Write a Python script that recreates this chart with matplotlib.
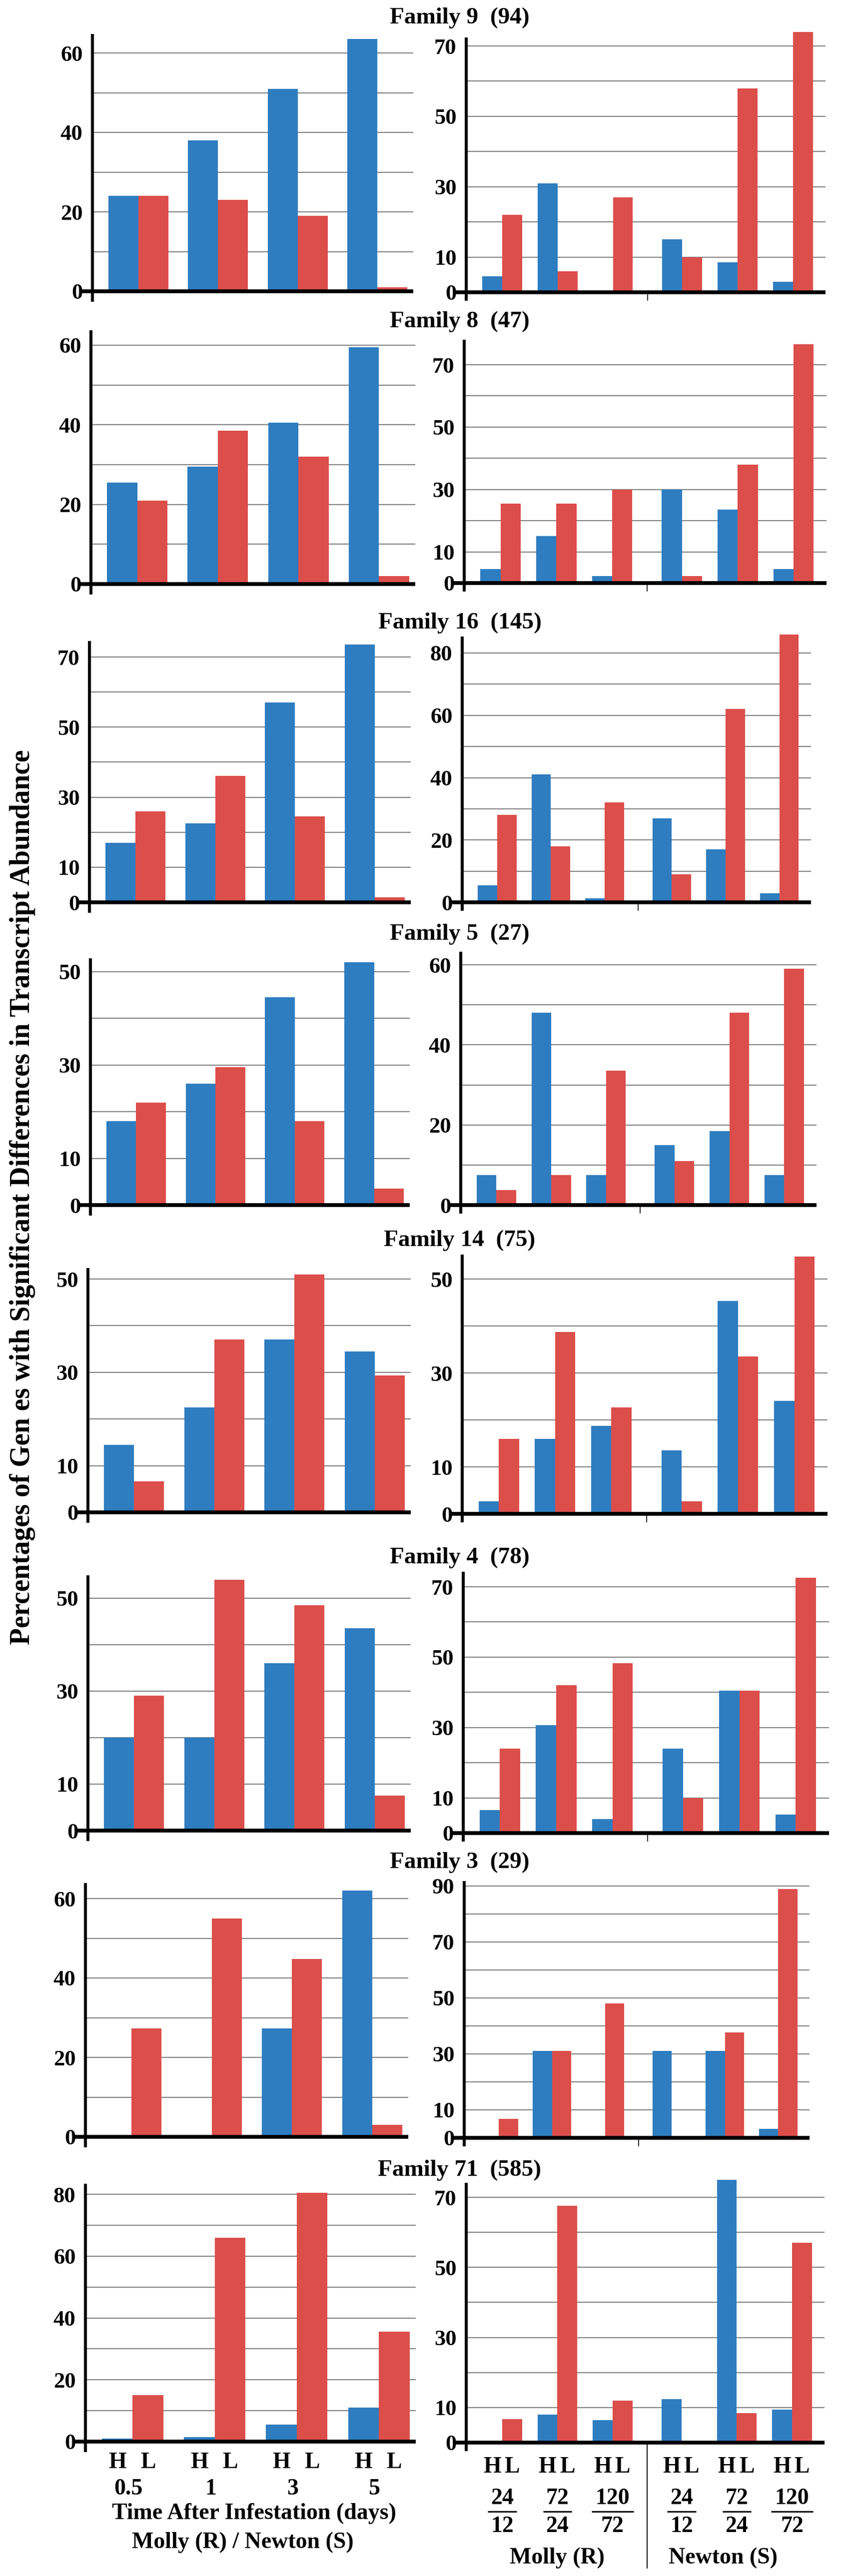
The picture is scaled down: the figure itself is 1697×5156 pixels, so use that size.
import matplotlib
matplotlib.use("Agg")
import matplotlib.pyplot as plt
from matplotlib.transforms import blended_transform_factory

# ---------------- data ----------------
families = ["Family 9", "Family 8", "Family 16", "Family 5",
            "Family 14", "Family 4", "Family 3", "Family 71"]
family_sizes = [94, 47, 145, 27, 75, 78, 29, 585]

days_labels = ["0.5", "1", "3", "5"]
ratio_top = ["24", "72", "120", "24", "72", "120"]
ratio_bottom = ["12", "24", "72", "12", "24", "72"]
cultivars = ["Molly (R)", "Newton (S)"]

# left panels (time after infestation), H = blue, L = red
left_H = [
    [24, 38, 51, 63.5],
    [25.5, 29.5, 40.5, 59.5],
    [17, 22.5, 57, 73.5],
    [18, 26, 44.5, 52],
    [14.5, 22.5, 37, 34.5],
    [20, 20, 36, 43.5],
    [0, 0, 27.3, 62],
    [1, 1.5, 5.5, 11],
]
left_L = [
    [24, 23, 19, 1],
    [21, 38.5, 32, 2],
    [26, 36, 24.5, 1.4],
    [22, 29.5, 18, 3.5],
    [6.6, 37, 51, 29.3],
    [29, 54, 48.5, 7.5],
    [27.3, 55, 44.8, 3],
    [15, 66, 80.5, 35.5],
]
# right panels (ratios, Molly then Newton), H = blue, L = red
right_H = [
    [4.5, 31, 0, 15, 8.5, 3],
    [4.5, 15, 2.3, 30, 23.5, 4.5],
    [5.4, 41, 1.3, 27, 17, 2.9],
    [7.5, 48, 7.5, 15, 18.5, 7.5],
    [2.7, 16, 18.7, 13.5, 45.3, 24],
    [6.5, 30.7, 4, 24, 40.5, 5.2],
    [0, 31, 0, 31, 31, 3.3],
    [0, 8, 6.4, 12.4, 75, 9.4],
]
right_L = [
    [22, 6, 27, 10, 58, 74],
    [25.5, 25.5, 30, 2.3, 38, 76.5],
    [28, 18, 32, 9, 62, 86],
    [3.7, 7.5, 33.5, 11, 48, 59],
    [16, 38.7, 22.7, 2.7, 33.5, 54.8],
    [24, 42, 48.3, 10, 40.5, 72.5],
    [6.7, 31, 48, 0, 37.6, 89],
    [6.7, 67.6, 12, 0, 8.4, 57],
]
left_ticks = [
    [0, 20, 40, 60],
    [0, 20, 40, 60],
    [0, 10, 30, 50, 70],
    [0, 10, 30, 50],
    [0, 10, 30, 50],
    [0, 10, 30, 50],
    [0, 20, 40, 60],
    [0, 20, 40, 60, 80],
]
right_ticks = [
    [0, 10, 30, 50, 70],
    [0, 10, 30, 50, 70],
    [0, 20, 40, 60, 80],
    [0, 20, 40, 60],
    [0, 10, 30, 50],
    [0, 10, 30, 50, 70],
    [0, 10, 30, 50, 70, 90],
    [0, 10, 30, 50, 70],
]

# ---------------- layout (pixels) ----------------
W, H = 1697, 5156
BLUE = "#2E7DC0"
RED = "#DC4E4A"
GRID = "#808080"
FONT = "Liberation Serif"

title_y = [36, 644, 1247, 1870, 2483, 3118, 3728, 4344]
title_x = 920

L_y0 = [583, 1169, 1806, 2412, 3027, 3664, 4277, 4887]
L_ref = [(60, 106), (60, 691), (70, 1315), (50, 1945), (50, 2560), (50, 3199), (60, 3800), (80, 4392)]
L_top = [71, 664, 1286, 1921, 2541, 3156, 3772, 4374]
L_sx = [185, 182, 179, 181, 176, 176, 171, 171]
L_ex = [827, 831, 822, 820, 822, 822, 817, 832]

R_y0 = [585, 1167, 1806, 2412, 3030, 3669, 4279, 4889]
R_ref = [(70, 92), (70, 730), (80, 1307), (60, 1931), (50, 2560), (70, 3176), (70, 3887), (70, 4398)]
R_top = [78, 683, 1277, 1908, 2514, 3149, 3768, 4372]
R_sx = [933, 929, 925, 922, 925, 927, 929, 933]
R_ex = [1652, 1654, 1623, 1634, 1656, 1659, 1620, 1650]

left_pos = [0, 1, 2, 3]
right_pos = [0, 1, 2, 3.25, 4.25, 5.25]

fig = plt.figure(figsize=(W / 100, H / 100), dpi=100)
fig.patch.set_facecolor("white")


def fy(py):
    return 1 - py / H


def panel(y0, ref, top_px, sx_px, ex_px, pos, hv, lv, ticks, xs, xe, bw, stub, ext):
    val, tpx = ref
    s = (y0 - tpx) / val                      # px per unit
    spine_top = (y0 - top_px) / s
    hi = max(spine_top, max(hv + lv) + 0.3)
    lo = -ext / s
    u = (ex_px - sx_px) / (xe - xs)           # px per x unit
    left_px = sx_px - stub
    x0 = xs - stub / u
    ax_top = y0 - hi * s
    ax_bot = y0 + ext
    ax = fig.add_axes([left_px / W, fy(ax_bot), (ex_px - left_px) / W, (ax_bot - ax_top) / H])
    ax.patch.set_visible(False)
    ax.set_xlim(x0, xe)
    ax.set_ylim(lo, hi)
    for k in ["top", "right", "bottom"]:
        ax.spines[k].set_visible(False)
    sp = ax.spines["left"]
    sp.set_position(("data", xs))
    sp.set_bounds(lo, spine_top)
    sp.set_linewidth(4.3)
    sp.set_color("black")
    for v in range(10, ticks[-1] + 1, 10):
        ax.plot([xs, xe], [v, v], color=GRID, lw=1.5, zorder=1)
    hb = [p - bw / 2 for p in pos]
    lb = [p + bw / 2 for p in pos]
    ax.bar(hb, hv, bw, color=BLUE, linewidth=0, zorder=2)
    ax.bar(lb, lv, bw, color=RED, linewidth=0, zorder=2)
    ax.plot([x0, xe], [0, 0], color="black", lw=5.5, solid_capstyle="butt", zorder=3)
    ax.set_xticks([])
    ax.set_yticks(ticks)
    ax.set_yticklabels([str(t) for t in ticks], fontfamily=FONT, fontweight="bold", fontsize=32)
    ax.tick_params(axis="y", length=0, pad=14)
    return ax, s


for r in range(8):
    fig.text(title_x / W, fy(title_y[r]), f"{families[r]}  ({family_sizes[r]})",
             ha="center", va="center", fontfamily=FONT, fontweight="bold", fontsize=34)
    axL, sL = panel(L_y0[r], L_ref[r], L_top[r], L_sx[r], L_ex[r], left_pos,
                    left_H[r], left_L[r], left_ticks[r], -0.575, 3.45, 0.375, 24, 18)
    axR, sR = panel(R_y0[r], R_ref[r], R_top[r], R_sx[r], R_ex[r], right_pos,
                    right_H[r], right_L[r], right_ticks[r], -0.65, 5.84, 0.36, 21, 14)
    if r < 7:
        axR.plot([2.625, 2.625], [0, -16 / sR], color="black", lw=1.2, clip_on=False, zorder=3)
    else:
        tr = blended_transform_factory(axR.transData, fig.transFigure)
        axR.plot([2.625, 2.625], [fy(R_y0[r]), fy(5140)], color="black", lw=1.5,
                 clip_on=False, transform=tr)

# ---------------- bottom labels ----------------
kw = dict(fontfamily=FONT, fontweight="bold", fontsize=33, ha="center", va="center")
trL = blended_transform_factory(axL.transData, fig.transFigure)
for i, p in enumerate(left_pos):
    axL.text(p - 0.375 / 2, fy(4929), "H", transform=trL, **kw)
    axL.text(p + 0.375 / 2, fy(4929), "L", transform=trL, **kw)
    axL.text(p - 0.05, fy(4982), days_labels[i], transform=trL, **kw)
fig.text(508 / W, fy(5031), "Time After Infestation (days)", **kw)
fig.text(486 / W, fy(5089), "Molly (R) / Newton (S)", **kw)

trR = blended_transform_factory(axR.transData, fig.transFigure)
for i, p in enumerate(right_pos):
    axR.text(p - 0.36 / 2, fy(4938), "H", transform=trR, **kw)
    axR.text(p + 0.36 / 2, fy(4938), "L", transform=trR, **kw)
    axR.text(p, fy(5001), ratio_top[i], transform=trR, **kw)
    axR.text(p, fy(5057), ratio_bottom[i], transform=trR, **kw)
    hw = 0.38 if max(len(ratio_top[i]), len(ratio_bottom[i])) > 2 else 0.26
    axR.plot([p - hw, p + hw], [fy(5027), fy(5027)], color="black", lw=2.2,
             transform=trR, clip_on=False, solid_capstyle="butt")
axR.text(1.0, fy(5120), cultivars[0], transform=trR, **kw)
axR.text(4.0, fy(5120), cultivars[1], transform=trR, **kw)

fig.text(45 / W, fy(2396),
         "Percentages of Gen es with Significant Differences in Transcript Abundance",
         rotation=90, ha="center", va="center", fontfamily=FONT, fontweight="bold", fontsize=40)

fig.savefig("out.png", dpi=100, facecolor="white")
